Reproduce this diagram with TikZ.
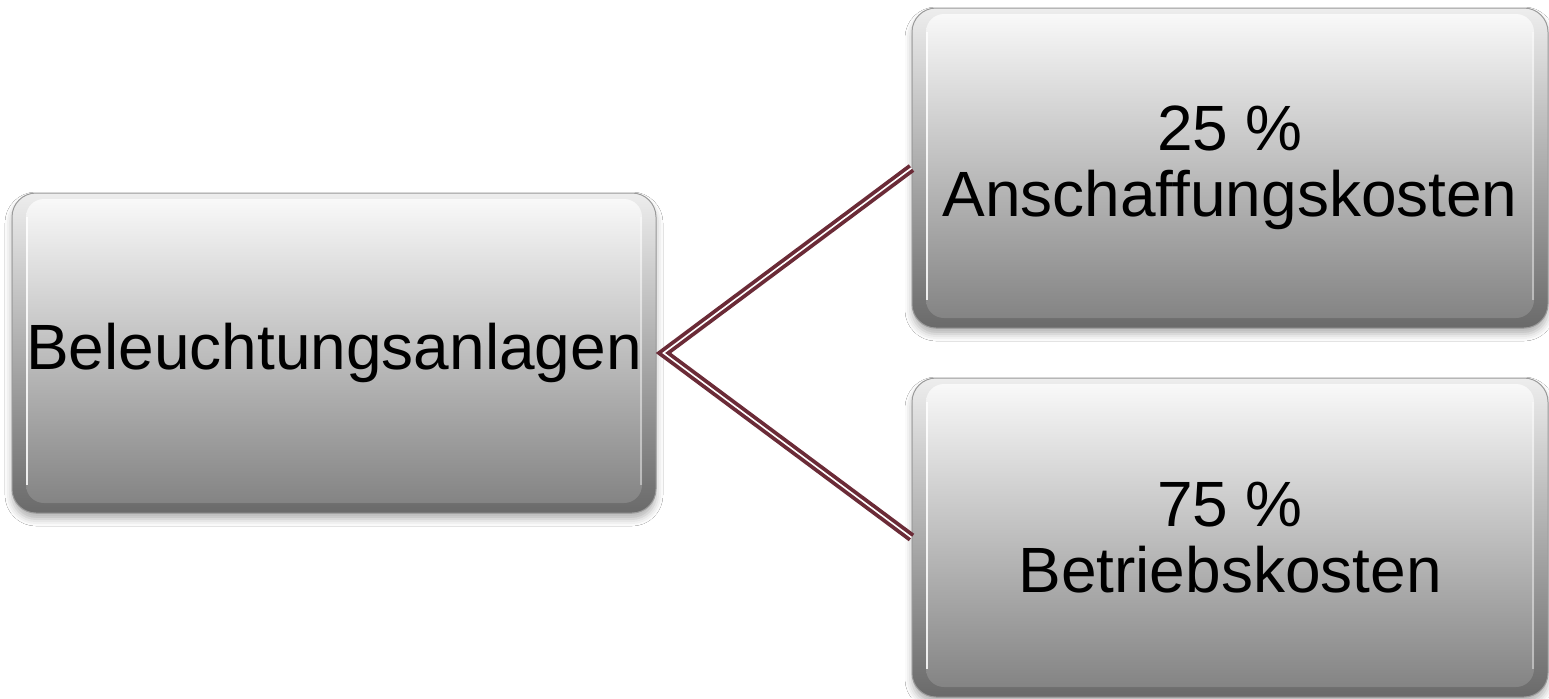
\documentclass[tikz,border=0pt]{standalone}
\usepackage{fontspec}
\setmainfont{Liberation Sans}
\usetikzlibrary{shadows.blur}

\definecolor{conncol}{HTML}{6B2B37}
\definecolor{rimtop}{HTML}{EDEDED}
\definecolor{rimbot}{HTML}{6A6A6A}
\definecolor{facetop}{HTML}{FBFBFB}
\definecolor{facebot}{HTML}{808080}
\definecolor{rimline}{HTML}{9A9A9A}

\tikzset{
  glassbox/.style={
    rounded corners=12pt, inner sep=0pt, align=center,
    font=\fontsize{32}{33}\selectfont,
    top color=rimtop, bottom color=rimbot,
    draw=rimline, line width=0.5pt,
    blur shadow={shadow xshift=0pt, shadow yshift=-3pt,
                 shadow blur radius=3.5pt, shadow opacity=30},
    path picture={
      \shade[top color=facetop, bottom color=facebot, rounded corners=9pt]
        ([xshift=7pt,yshift=-3pt]path picture bounding box.north west)
        rectangle ([xshift=-7pt,yshift=5pt]path picture bounding box.south east);
      \draw[white, line width=1.2pt, opacity=0.85]
        ([xshift=7.6pt,yshift=-12pt]path picture bounding box.north west)
        -- ([xshift=7.6pt,yshift=14pt]path picture bounding box.south west);
      \draw[white, line width=1pt, opacity=0.4]
        ([xshift=-7.6pt,yshift=-12pt]path picture bounding box.north east)
        -- ([xshift=-7.6pt,yshift=14pt]path picture bounding box.south east);
    }
  },
  conn/.style={draw=conncol, double=white, double distance=0.8pt,
               line width=1.9pt, line join=miter}
}

\begin{document}
\begin{tikzpicture}[x=0.5pt, y=-0.5pt]
  \useasboundingbox[fill=white] (0,0) rectangle (1549,698);

  % source box
  \node[glassbox, minimum width=322pt, minimum height=160pt]
    (lamps) at (334,353) {Beleuchtungsanlagen};

  % cost shares
  \node[glassbox, minimum width=318pt, minimum height=160pt]
    (invest) at (1230,168) {25 \%\\Anschaffungskosten};
  \node[glassbox, minimum width=318pt, minimum height=159.5pt]
    (running) at (1230,537.5) {75 \%\\Betriebskosten};

  % branching connector
  \coordinate (fork) at ([xshift=3.5pt]lamps.east);
  \draw[conn] (invest.west) -- (fork) -- (running.west);
\end{tikzpicture}
\end{document}
